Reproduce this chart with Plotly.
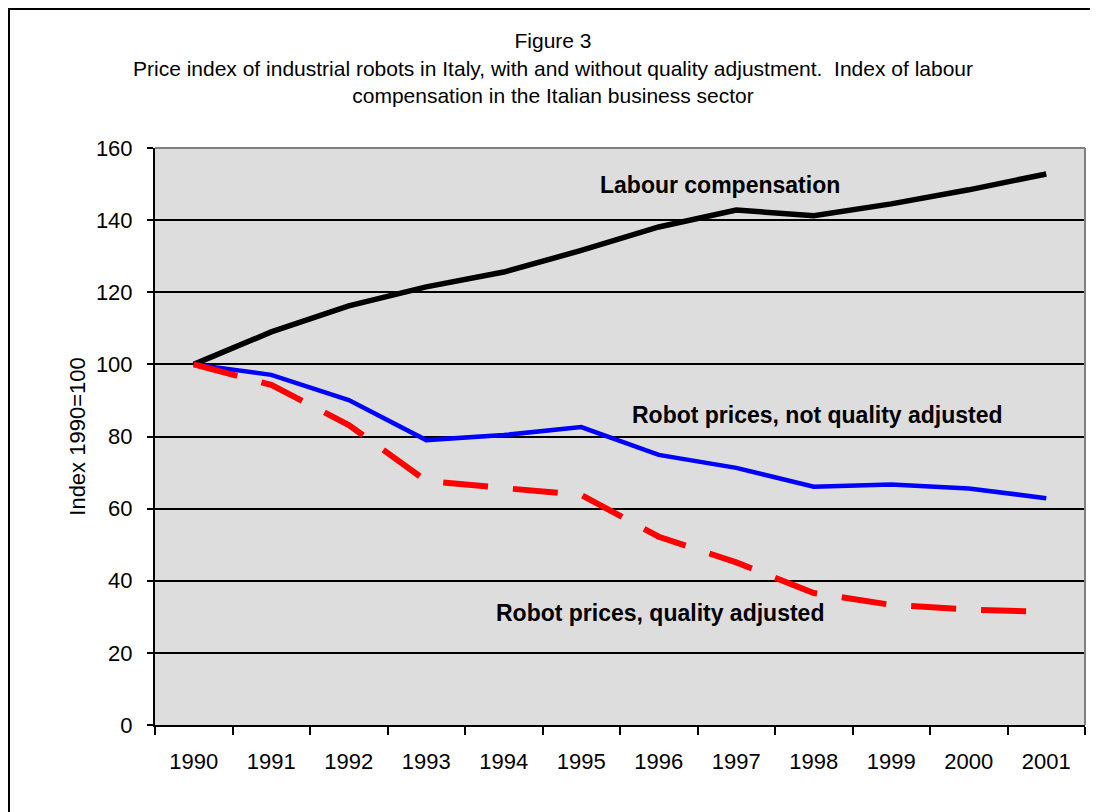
import plotly.graph_objects as go

years = ["1990", "1991", "1992", "1993", "1994", "1995", "1996", "1997", "1998", "1999", "2000", "2001"]
labour = [100, 109.0, 116.2, 121.5, 125.6, 131.6, 138.1, 142.8, 141.2, 144.5, 148.4, 152.8]
robots_not_adj = [100, 97.1, 90.1, 79.0, 80.4, 82.6, 74.9, 71.3, 66.1, 66.7, 65.6, 62.9]
robots_adj = [100, 94.3, 83.2, 67.7, 65.7, 63.8, 52.2, 45.1, 36.6, 33.3, 32.0, 31.4]

FONT = "Liberation Sans, Arial, sans-serif"

W, H = 1090, 804
L, R, T, B = 147, 13, 140, 87
PW, PH = W - L - R, H - T - B

fig = go.Figure()
fig.add_trace(go.Scatter(x=years, y=labour, mode="lines",
                         line=dict(color="black", width=5.5), showlegend=False))
fig.add_trace(go.Scatter(x=years, y=robots_not_adj, mode="lines",
                         line=dict(color="#0000FF", width=4.5), showlegend=False))
fig.add_trace(go.Scatter(x=years, y=robots_adj, mode="lines",
                         line=dict(color="#FF0000", width=6, dash="45px,25px"), showlegend=False))

fig.update_layout(
    width=W, height=H,
    margin=dict(l=L, r=R, t=T, b=B),
    paper_bgcolor="white",
    plot_bgcolor="#DDDDDD",
    font=dict(family=FONT, color="black", size=18),
    title=dict(
        text="Figure 3<br>Price index of industrial robots in Italy, with and without quality adjustment.  Index of labour<br>compensation in the Italian business sector",
        x=0.5, xanchor="center", y=0.95, yanchor="top",
        font=dict(family=FONT, size=21, color="black"),
    ),
    xaxis=dict(
        type="category", range=[-0.5, 11.5], tickson="boundaries",
        ticks="outside", ticklen=8, tickwidth=1.5, tickcolor="black",
        showline=True, linecolor="black", linewidth=2,
        showgrid=False, ticklabelstandoff=16,
        tickfont=dict(size=22),
    ),
    yaxis=dict(
        range=[0, 160], dtick=20, tick0=0,
        ticks="outside", ticklen=6, tickwidth=1.5, tickcolor="black",
        showline=True, linecolor="black", linewidth=2,
        showgrid=True, gridcolor="black", gridwidth=1.5,
        zeroline=False, ticklabelstandoff=10,
        title=dict(text="Index 1990=100", font=dict(size=22), standoff=4),
        tickfont=dict(size=22),
    ),
    shapes=[
        dict(type="line", xref="paper", yref="paper", x0=0, x1=1, y0=1, y1=1,
             line=dict(color="#808080", width=2)),
        dict(type="line", xref="paper", yref="paper", x0=1, x1=1, y0=0, y1=1,
             line=dict(color="#808080", width=2)),
        dict(type="rect", xref="paper", yref="paper",
             x0=(1 - L) / PW, x1=(W + 20 - L) / PW,
             y0=(PH + 20) / -PH + 0.0, y1=(PH + T - 1) / PH,
             line=dict(color="black", width=2), fillcolor="rgba(0,0,0,0)"),
    ],
    annotations=[
        dict(text="<b>Labour compensation</b>", x=6.79, y=149.8, xref="x", yref="y",
             showarrow=False, font=dict(size=23, family=FONT)),
        dict(text="<b>Robot prices, not quality adjusted</b>", x=8.05, y=86.0, xref="x", yref="y",
             showarrow=False, font=dict(size=23, family=FONT)),
        dict(text="<b>Robot prices, quality adjusted</b>", x=6.02, y=31.1, xref="x", yref="y",
             showarrow=False, font=dict(size=23, family=FONT)),
    ],
)

fig.write_html("out.html")
